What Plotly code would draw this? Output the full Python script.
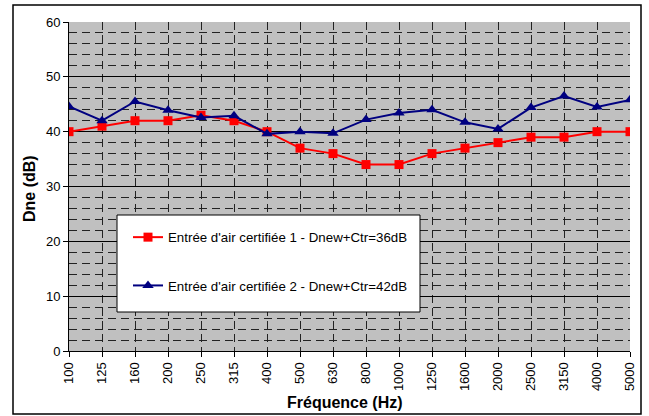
import plotly.graph_objects as go

freqs = ["100", "125", "160", "200", "250", "315", "400", "500", "630", "800",
         "1000", "1250", "1600", "2000", "2500", "3150", "4000", "5000"]
entree_1 = [40, 41, 42, 42, 43, 42, 40, 37, 36, 34, 34, 36, 37, 38, 39, 39, 40, 40]
entree_2 = [44.6, 42.0, 45.5, 43.9, 42.6, 42.9, 39.6, 40.0, 39.7, 42.2, 43.4, 44.0,
            41.7, 40.5, 44.4, 46.5, 44.5, 45.8]
names = ["Entrée d'air certifiée 1 - Dnew+Ctr=36dB",
         "Entrée d'air certifiée 2 - Dnew+Ctr=42dB"]

x = list(range(len(freqs)))
font = "Liberation Sans, Arial, sans-serif"

fig = go.Figure()
fig.add_trace(go.Scatter(x=x, y=entree_1, name=names[0], mode="lines+markers",
                         line=dict(color="#FF0000", width=2),
                         marker=dict(symbol="square", size=9, color="#FF0000"),
                         legendgroup="a"))
fig.add_trace(go.Scatter(x=x, y=entree_2, name=names[1], mode="lines+markers",
                         line=dict(color="#000080", width=2),
                         marker=dict(symbol="triangle-up", size=10, color="#000080"),
                         legendgroup="b"))

# legend frame (drawn as a shape so it covers the grid)
fig.add_shape(type="rect", xref="paper", yref="paper",
              x0=(117 - 69) / 561, x1=(420 - 69) / 561,
              y0=(351 - 312) / 329, y1=(351 - 215) / 329,
              line=dict(color="black", width=1), fillcolor="white", layer="above")
# outer chart border
fig.add_shape(type="rect", xref="paper", yref="paper",
              x0=(13 - 69) / 561, x1=(641 - 69) / 561,
              y0=(351 - 414) / 329, y1=(351 - 5) / 329,
              line=dict(color="black", width=1.5), layer="below")

# axis titles placed as annotations
fig.add_annotation(text="<b>Fréquence (Hz)</b>", xref="paper", yref="paper",
                   x=(345 - 69) / 561, y=(351 - 402) / 329, showarrow=False,
                   font=dict(size=16), xanchor="center", yanchor="middle")
fig.add_annotation(text="<b>Dne (dB)</b>", xref="paper", yref="paper",
                   x=(29 - 69) / 561, y=(351 - 189) / 329, showarrow=False,
                   textangle=-90, font=dict(size=16), xanchor="center", yanchor="middle")

fig.update_layout(
    width=649, height=416,
    margin=dict(l=69, r=19, t=22, b=65),
    paper_bgcolor="white", plot_bgcolor="#C0C0C0",
    font=dict(family=font, size=13, color="black"),
    showlegend=True,
    legend=dict(x=(128 - 69) / 561, y=(351 - 222) / 329, xanchor="left", yanchor="top",
                bgcolor="rgba(0,0,0,0)", borderwidth=0,
                traceorder="grouped", tracegroupgap=28,
                font=dict(family=font, size=13.3)),
    xaxis=dict(range=[0, len(freqs) - 1], tickvals=x, ticktext=freqs,
               tickangle=-90, ticks="outside", ticklen=5, tickcolor="black",
               showgrid=True, gridcolor="#222222", griddash="8px,5px", gridwidth=1,
               zeroline=False, showline=True, linecolor="black", linewidth=1,
               automargin=False),
    yaxis=dict(range=[0, 60], dtick=10, ticks="outside", ticklen=5, tickcolor="black",
               showgrid=True, gridcolor="black", gridwidth=1,
               zeroline=False, showline=True, linecolor="black", linewidth=1,
               minor=dict(dtick=2, showgrid=True, gridcolor="#222222",
                          griddash="8px,5px", gridwidth=1),
               automargin=False),
)

fig.write_html("out.html", config={"displayModeBar": False},
               post_script="document.body.style.margin='0';")
